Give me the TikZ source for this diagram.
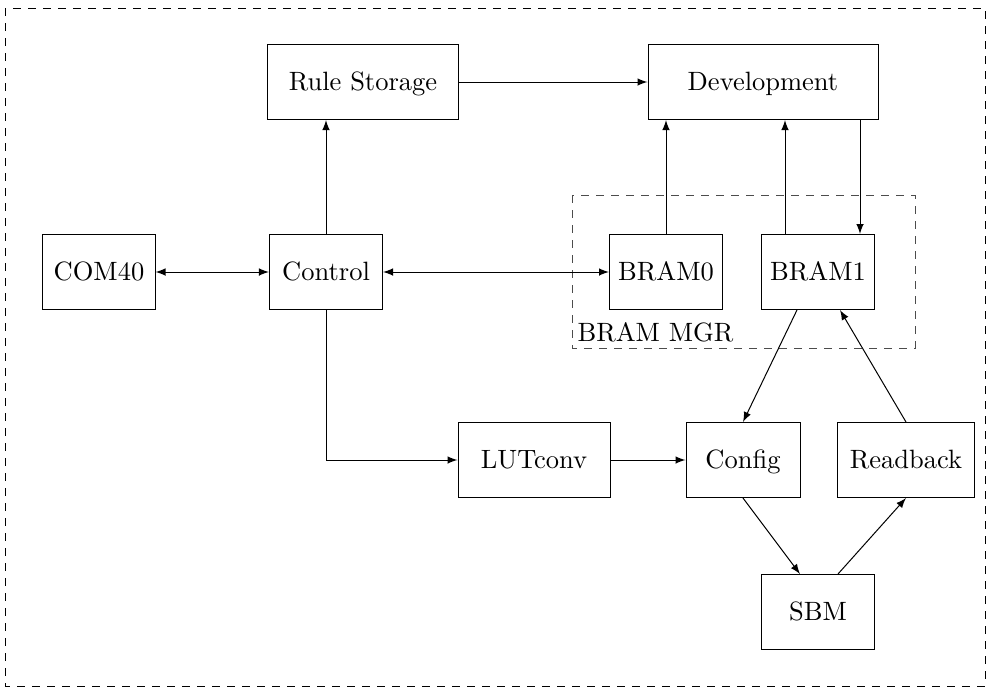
\documentclass[tikz,border=0pt]{standalone}
\usetikzlibrary{arrows}
\begin{document}
\begin{tikzpicture}[x=0.4pt,y=-0.4pt,
  font=\fontsize{10.6pt}{12.7pt}\selectfont,
  blk/.style={draw, minimum height=30pt, inner sep=0pt,
    text height=0.72em, text depth=0.02em},
  conn/.style={-latex},
  biconn/.style={latex-latex}]
\useasboundingbox (0,0) rectangle (989,688);

% outer frame
\draw[dashed] (5,8) rectangle (985,686);

% blocks
\node[blk, minimum width=76pt]   (rule)  at (363,82)  {Rule Storage};
\node[blk, minimum width=92pt]   (dev)   at (763,82)  {Development};
\node[blk, minimum width=44.8pt] (com)   at (99,272)  {COM40};
\node[blk, minimum width=45.2pt] (ctrl)  at (326,272) {Control};
\node[blk, minimum width=45.2pt] (bram0) at (666,272) {BRAM0};
\node[blk, minimum width=45.2pt] (bram1) at (818,272) {BRAM1};
\node[blk, minimum width=60.8pt] (lut)   at (534,460) {LUTconv};
\node[blk, minimum width=45.6pt] (cfg)   at (743,460) {Config};
\node[blk, minimum width=54.8pt] (rb)    at (906,460) {Readback};
\node[blk, minimum width=45.2pt] (sbm)   at (818,612) {SBM};

% BRAM manager group
\draw[dashed, black!70] (572,195) rectangle (915,348);
\coordinate (mgrsw) at (572,348);
\node[anchor=south west, inner sep=2pt] (mgr) at (mgrsw) {BRAM MGR};

% connections
\draw[conn] (rule) -- (dev);
\draw[biconn] (com) -- (ctrl);
\draw[biconn] (ctrl) -- (bram0);
\draw[conn] (ctrl.north) -- (ctrl.north |- rule.south);
\draw[conn] (ctrl.south) |- (lut.west);
\draw[conn] (lut) -- (cfg);
\draw[conn] (bram0.north) -- (bram0.north |- dev.south);
\draw[conn] ([xshift=-13.2pt]bram1.north) -- ([xshift=-13.2pt]bram1.north |- dev.south);
\draw[conn] ([xshift=16.8pt]bram1.north |- dev.south) -- ([xshift=16.8pt]bram1.north);
\draw[conn] ([xshift=-8.4pt]bram1.south) -- (cfg.north);
\draw[conn] (rb.north) -- ([xshift=8.8pt]bram1.south);
\draw[conn] (cfg.south) -- ([xshift=-7.2pt]sbm.north);
\draw[conn] ([xshift=8pt]sbm.north) -- (rb.south);
\end{tikzpicture}
\end{document}
